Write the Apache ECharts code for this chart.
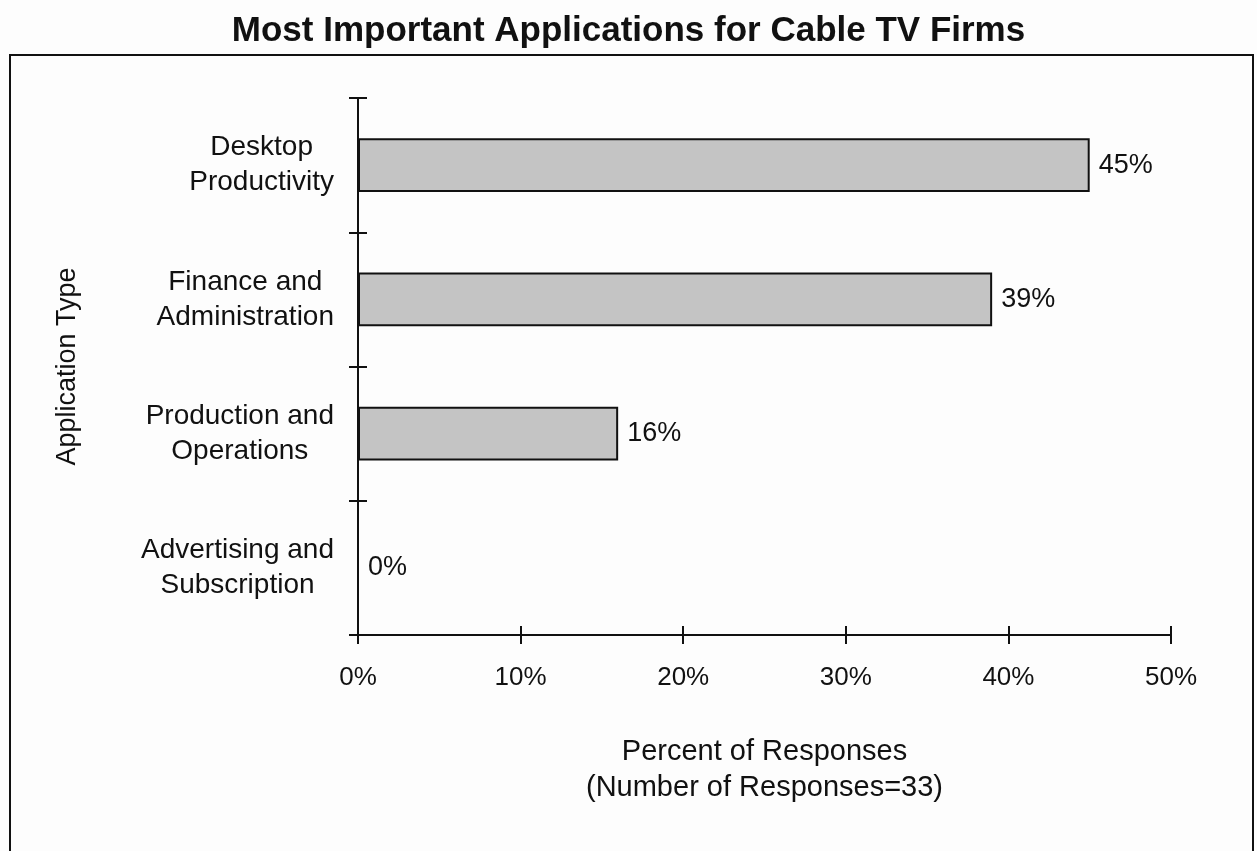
<!DOCTYPE html>
<html>
<head>
<meta charset="utf-8">
<title>Most Important Applications for Cable TV Firms</title>
<script src="https://cdn.jsdelivr.net/npm/echarts@6/dist/echarts.min.js"></script>
<style>
  html, body { margin: 0; padding: 0; background: #fdfdfd; }
  #chart { width: 1257px; height: 851px; }
</style>
</head>
<body>
<div id="chart"></div>
<script>
// Application types, top to bottom
const categories = [
  'Desktop\nProductivity',
  'Finance and\nAdministration',
  'Production and\nOperations',
  'Advertising and\nSubscription'
];
// Percent of responses for each application type
const percentValues = [45, 39, 16, 0];
// Percent axis ticks
const percentTicks = [0, 10, 20, 30, 40, 50];

const FONT = '"Liberation Sans", Arial, sans-serif';
const INK = '#111';

const chart = echarts.init(document.getElementById('chart'), null, { renderer: 'canvas' });

const tickMin = percentTicks[0];
const tickMax = percentTicks[percentTicks.length - 1];
const tickStep = percentTicks[1] - percentTicks[0];

// each label line centred inside a right-aligned block
const centeredLines = (v) => v.split('\n').map(s => '{c|' + s + '}').join('\n');

chart.setOption({
  backgroundColor: '#fdfdfd',
  animation: false,
  title: {
    text: 'Most Important Applications for Cable TV Firms',
    left: 'center',
    top: 9,
    textStyle: { fontFamily: FONT, fontSize: 35, fontWeight: 'bold', color: INK }
  },
  graphic: [{
    type: 'rect',
    shape: { x: 10, y: 55, width: 1243, height: 830 },
    style: { fill: 'none', stroke: '#111', lineWidth: 2 },
    silent: true
  }],
  grid: { left: 358, right: 86, top: 98, bottom: 216 },
  xAxis: [{
    type: 'value',
    min: tickMin,
    max: tickMax,
    interval: tickStep,
    name: 'Percent of Responses\n(Number of Responses=33)',
    nameLocation: 'middle',
    nameGap: 99,
    nameTextStyle: { fontFamily: FONT, fontSize: 29, color: INK, lineHeight: 36 },
    axisLine: { show: true, lineStyle: { color: '#111', width: 2 } },
    axisTick: { show: true, length: 9, lineStyle: { color: '#111', width: 2 } },
    axisLabel: { formatter: '{value}%', fontFamily: FONT, fontSize: 26, color: INK, margin: 30 },
    splitLine: { show: false }
  }, {
    // inner half of the crossing tick marks
    type: 'value',
    position: 'bottom',
    min: tickMin,
    max: tickMax,
    interval: tickStep,
    axisLine: { show: false },
    axisTick: { show: true, inside: true, length: 9, lineStyle: { color: '#111', width: 2 } },
    axisLabel: { show: false },
    splitLine: { show: false }
  }],
  yAxis: [{
    type: 'category',
    inverse: true,
    data: categories,
    name: 'Application Type',
    nameLocation: 'middle',
    nameRotate: 90,
    nameGap: 277,
    nameTextStyle: { fontFamily: FONT, fontSize: 27, color: INK },
    axisLine: { show: true, lineStyle: { color: '#111', width: 2 } },
    axisTick: { show: true, length: 9, interval: 0, lineStyle: { color: '#111', width: 2 } },
    axisLabel: {
      margin: 24,
      formatter: centeredLines,
      rich: { c: { align: 'center', fontFamily: FONT, fontSize: 28, color: INK, lineHeight: 35 } }
    },
    splitLine: { show: false }
  }, {
    // inner half of the crossing tick marks
    type: 'category',
    position: 'left',
    inverse: true,
    data: categories,
    axisLine: { show: false },
    axisTick: { show: true, inside: true, length: 9, interval: 0, lineStyle: { color: '#111', width: 2 } },
    axisLabel: { show: false },
    splitLine: { show: false }
  }],
  series: [{
    type: 'bar',
    xAxisIndex: 0,
    yAxisIndex: 0,
    data: percentValues,
    barWidth: '40%',
    itemStyle: { color: '#c4c4c4', borderColor: '#111', borderWidth: 2 },
    label: {
      show: true,
      position: 'right',
      distance: 9,
      formatter: '{c}%',
      fontFamily: FONT,
      fontSize: 27,
      color: INK
    }
  }]
});
</script>
</body>
</html>
